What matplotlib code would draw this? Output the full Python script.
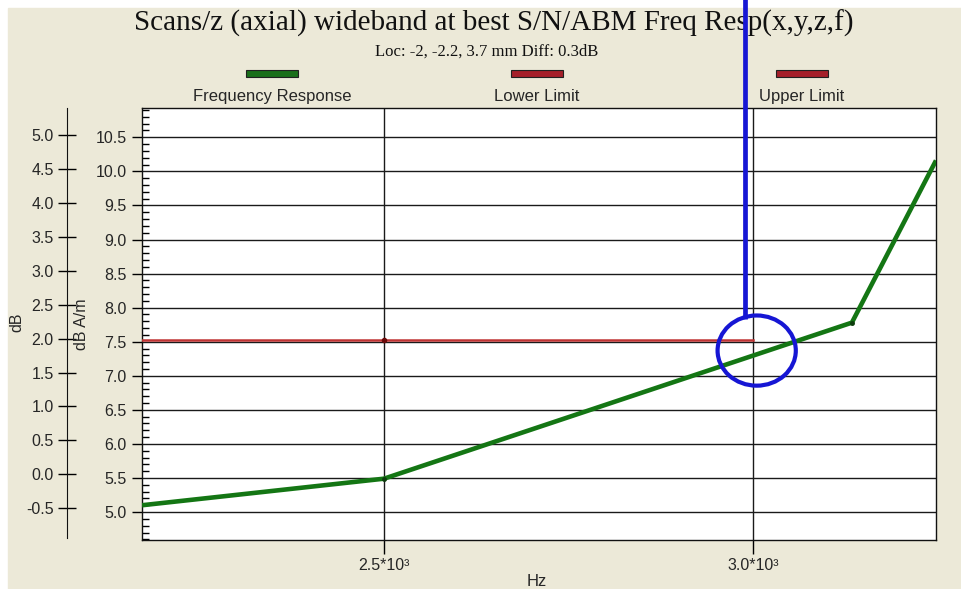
import numpy as np
import matplotlib.pyplot as plt
from matplotlib.patches import Rectangle, Ellipse
from matplotlib.ticker import MultipleLocator

W, H = 962, 589

# data
freq_hz = [2172, 2500, 3134, 3248]
resp_dbam = [5.10, 5.49, 7.78, 10.16]
limit_hz = [2172, 2500, 3000]
lower_limit_dbam = [7.52, 7.52, 7.52]

xticks = [2500, 3000]
xtick_labels = ['2.5*10³', '3.0*10³']
yticks_dbam = np.arange(5.0, 10.51, 0.5)
yticks_db = np.arange(-0.5, 5.01, 0.5)

legend_labels = ['Frequency Response', 'Lower Limit', 'Upper Limit']
legend_colors = ['#1a6f1a', '#a51f2a', '#a51f2a']

# blue hand-drawn marker
marker_hz = 2989
marker_bottom = 7.84
circle_center = (3005, 7.37)
circle_size = (106, 1.03)

sans = 'Liberation Sans'
serif = 'Liberation Serif'
blue = '#1616d4'
txt = '#262626'
tick_fs = 11.5

fig = plt.figure(figsize=(W / 100, H / 100), dpi=100, facecolor='white')
fig.add_artist(Rectangle((8 / W, 0), 1, (H - 8) / H, transform=fig.transFigure,
                         color='#ece9d8', zorder=-10))

# main plot
ax = fig.add_axes([142 / W, 1 - 540 / H, (936 - 142) / W, (540 - 108) / H])
ax.set_zorder(5)
ax.set_facecolor('white')
ax.set_xlim(2172, 3248)
ax.set_ylim(4.59, 10.93)
ax.set_xticks(xticks)
ax.set_xticklabels(xtick_labels)
ax.set_yticks(yticks_dbam)
ax.set_yticklabels(['%.1f' % v for v in yticks_dbam])
ax.yaxis.set_minor_locator(MultipleLocator(0.1))
ax.grid(True, color='#1a1a1a', lw=1.0)
ax.set_axisbelow(True)
for s in ax.spines.values():
    s.set_color('#111111')
    s.set_linewidth(1.0)
ax.tick_params(axis='y', which='major', direction='out', length=7, width=1,
               pad=4, labelsize=tick_fs, labelcolor=txt)
ax.tick_params(axis='y', which='minor', direction='in', length=5, width=1)
ax.tick_params(axis='x', which='major', direction='out', length=10, width=1,
               pad=3, labelsize=tick_fs, labelcolor=txt)
for lab in ax.get_xticklabels() + ax.get_yticklabels():
    lab.set_family(sans)

ax.plot(limit_hz, lower_limit_dbam, color='#c03434', lw=1.8, zorder=3)
ax.plot([limit_hz[1]], [lower_limit_dbam[1]], 'o', color='#6a0a0a', ms=3, zorder=4)
ax.plot(freq_hz, resp_dbam, color='#147614', lw=3.3, zorder=3,
        solid_capstyle='butt')
ax.plot(freq_hz[1:3], resp_dbam[1:3], 'o', color='#0d3d0d', ms=2.5, zorder=4)

ax.add_patch(Ellipse(circle_center, circle_size[0], circle_size[1], fill=False,
                     ec=blue, lw=3, zorder=6))
ax.plot([marker_hz, marker_hz], [marker_bottom, 13.0], color=blue, lw=3.4,
        clip_on=False, zorder=6, solid_capstyle='butt')

# secondary dB axis on the left
ax2 = fig.add_axes([67 / W, 1 - 538 / H, 0.0005, (538 - 108) / H])
ax2.patch.set_visible(False)
for k in ['top', 'right', 'bottom']:
    ax2.spines[k].set_visible(False)
ax2.spines['left'].set_color('#111111')
ax2.set_xticks([])
ax2.set_ylim(-0.94, 5.40)
ax2.set_yticks(yticks_db)
ax2.set_yticklabels(['%.1f' % v for v in yticks_db])
ax2.tick_params(axis='y', direction='inout', length=13, width=1, pad=3,
                labelsize=tick_fs, labelcolor=txt)
for lab in ax2.get_yticklabels():
    lab.set_family(sans)

# texts
fig.text(494 / W, 1 - 31 / H, 'Scans/z (axial) wideband at best S/N/ABM Freq Resp(x,y,z,f)',
         ha='center', va='baseline', fontsize=21, family=serif, color='#111111')
fig.text(487 / W, 1 - 56 / H, 'Loc: -2, -2.2, 3.7 mm Diff: 0.3dB',
         ha='center', va='baseline', fontsize=12, family=serif, color='#111111')
fig.text(17 / W, 1 - 322 / H, 'dB', rotation=90, ha='center', va='center',
         fontsize=tick_fs, family=sans, color=txt)
fig.text(82 / W, 1 - 324 / H, 'dB A/m', rotation=90, ha='center', va='center',
         fontsize=tick_fs, family=sans, color=txt)
fig.text(537 / W, 1 - 581 / H, 'Hz', ha='center', va='center',
         fontsize=12, family=sans, color=txt)

# legend
legend_x = [272, 537, 802]
for cx, lab, col in zip(legend_x, legend_labels, legend_colors):
    fig.add_artist(Rectangle(((cx - 26) / W, 1 - 77 / H), 52 / W, 7 / H,
                             transform=fig.transFigure, fc=col, ec='#202020', lw=0.8))
    fig.text(cx / W, 1 - 101 / H, lab, ha='center', va='baseline',
             fontsize=12, family=sans, color=txt)

fig.savefig('out.png', dpi=100)
